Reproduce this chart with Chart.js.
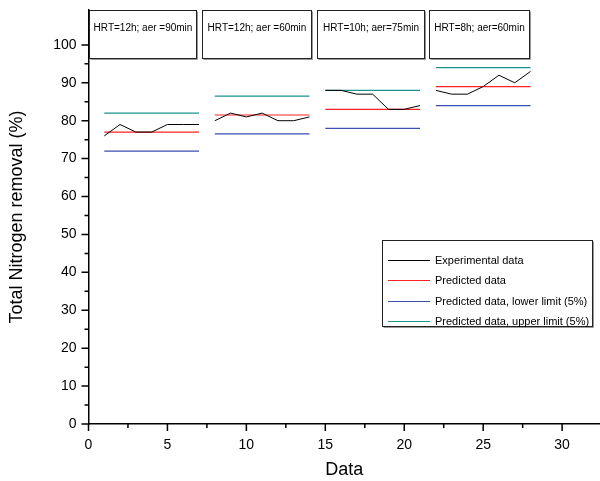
<!DOCTYPE html>
<html>
<head>
<meta charset="utf-8">
<script src="https://cdn.jsdelivr.net/npm/chart.js@4/dist/chart.umd.min.js"></script>
<style>
  html, body { margin: 0; padding: 0; background: #fff; }
  #wrap { width: 600px; height: 481px; }
</style>
</head>
<body>
<div id="wrap"><canvas id="tn-chart"></canvas></div>
<script>
// data
const sampleNo = [1,2,3,4,5,6,7, 8,9,10,11,12,13,14, 15,16,17,18,19,20,21, 22,23,24,25,26,27,28];
const experimental = [76,79,77,77,79,79,79, 80,82,81,82,80,80,81, 88,88,87,87,83,83,84, 88,87,87,89,92,90,93];
const groupStart = [1, 8, 15, 22];
const groupEnd = [7, 14, 21, 28];
const predicted = [77, 81.5, 83, 89];
const predictedLow = [72, 76.5, 78, 84];
const predictedHigh = [82, 86.5, 88, 94];
const conditionLabels = ['HRT=12h; aer =90min', 'HRT=12h; aer =60min', 'HRT=10h; aer=75min', 'HRT=8h; aer=60min'];
const seriesLabels = ['Experimental data', 'Predicted data', 'Predicted data, lower limit (5%)', 'Predicted data, upper limit (5%)'];
const xTicks = [0, 2.5, 5, 7.5, 10, 12.5, 15, 17.5, 20, 22.5, 25, 27.5, 30];
const yTicks = [0, 5, 10, 15, 20, 25, 30, 35, 40, 45, 50, 55, 60, 65, 70, 75, 80, 85, 90, 95, 100];

const FONT = "'Liberation Sans', Arial, sans-serif";

// horizontal segments per operating condition, broken with nulls
function levelSegments(levels) {
    const pts = [];
    levels.forEach((v, i) => {
        pts.push({ x: groupStart[i], y: v });
        pts.push({ x: groupEnd[i], y: v });
        pts.push({ x: groupEnd[i] + 0.5, y: null });
    });
    return pts;
}

// experimental series, one broken line per condition
const expPoints = [];
sampleNo.forEach((x, i) => {
    expPoints.push({ x: x, y: experimental[i] });
    if (groupEnd.includes(x)) expPoints.push({ x: x + 0.5, y: null });
});

// tick marks (major + minor) drawn by hand
const tickMarks = {
    id: 'tickMarks',
    afterDraw(chart) {
        const ctx = chart.ctx;
        const xs = chart.scales.x, ys = chart.scales.y;
        const area = chart.chartArea;
        ctx.save();
        ctx.strokeStyle = '#000';
        ctx.lineWidth = 1.5;
        ctx.beginPath();
        xs.ticks.forEach(t => {
            const px = xs.getPixelForValue(t.value);
            const len = t.value % 5 === 0 ? 7 : 4;
            ctx.moveTo(px, area.bottom);
            ctx.lineTo(px, area.bottom + len);
        });
        ys.ticks.forEach(t => {
            const py = ys.getPixelForValue(t.value);
            const len = t.value % 10 === 0 ? 7 : 4;
            ctx.moveTo(area.left, py);
            ctx.lineTo(area.left - len, py);
        });
        ctx.stroke();
        ctx.restore();
    }
};

// condition boxes on top of the plot
const conditionBoxes = {
    id: 'conditionBoxes',
    afterDraw(chart, args, opts) {
        const ctx = chart.ctx;
        const xs = chart.scales.x, ys = chart.scales.y;
        ctx.save();
        opts.spans.forEach((s, i) => {
            const x0 = Math.round(xs.getPixelForValue(s[0])) + 0.5;
            const x1 = Math.round(xs.getPixelForValue(s[1])) + 0.5;
            const y0 = Math.round(ys.getPixelForValue(opts.top)) + 0.5;
            const y1 = Math.round(ys.getPixelForValue(opts.bottom)) + 0.5;
            ctx.fillStyle = '#fff';
            ctx.fillRect(x0, y0, x1 - x0, y1 - y0);
            ctx.strokeStyle = '#999';
            ctx.lineWidth = 1;
            ctx.beginPath();
            ctx.moveTo(x1 + 1, y0 + 1);
            ctx.lineTo(x1 + 1, y1 + 1);
            ctx.lineTo(x0 + 1, y1 + 1);
            ctx.stroke();
            ctx.strokeStyle = '#222';
            ctx.strokeRect(x0, y0, x1 - x0, y1 - y0);
            ctx.fillStyle = '#000';
            ctx.font = '10px ' + FONT;
            ctx.textAlign = 'center';
            ctx.textBaseline = 'middle';
            ctx.fillText(conditionLabels[i], (x0 + x1) / 2, y0 + 18);
        });
        ctx.restore();
    }
};

// legend box inside the plot
const boxLegend = {
    id: 'boxLegend',
    afterDraw(chart) {
        const ctx = chart.ctx;
        const bx = 382.5, by = 240.5, bw = 210, bh = 86;
        ctx.save();
        ctx.fillStyle = '#fff';
        ctx.fillRect(bx, by, bw, bh);
        ctx.strokeStyle = '#999';
        ctx.lineWidth = 1;
        ctx.beginPath();
        ctx.moveTo(bx + bw + 1, by + 1);
        ctx.lineTo(bx + bw + 1, by + bh + 1);
        ctx.lineTo(bx + 1, by + bh + 1);
        ctx.stroke();
        ctx.strokeStyle = '#222';
        ctx.strokeRect(bx, by, bw, bh);
        ctx.font = '11px ' + FONT;
        ctx.textAlign = 'left';
        ctx.textBaseline = 'middle';
        chart.data.datasets.forEach((ds, i) => {
            const y = Math.round(by + 19 + i * 20.5) + 0.5;
            ctx.strokeStyle = ds.borderColor;
            ctx.lineWidth = 1.2;
            ctx.beginPath();
            ctx.moveTo(388, y);
            ctx.lineTo(430, y);
            ctx.stroke();
            ctx.fillStyle = '#000';
            ctx.fillText(ds.label, 435, y);
        });
        ctx.restore();
    }
};

new Chart(document.getElementById('tn-chart'), {
    type: 'line',
    data: {
        datasets: [
            { label: seriesLabels[0], data: expPoints, borderColor: '#000', borderWidth: 1, pointRadius: 0, tension: 0, spanGaps: false },
            { label: seriesLabels[1], data: levelSegments(predicted), borderColor: '#f22', borderWidth: 1.2, pointRadius: 0, spanGaps: false },
            { label: seriesLabels[2], data: levelSegments(predictedLow), borderColor: '#3d4fb0', borderWidth: 1.2, pointRadius: 0, spanGaps: false },
            { label: seriesLabels[3], data: levelSegments(predictedHigh), borderColor: '#1b9490', borderWidth: 1.2, pointRadius: 0, spanGaps: false }
        ]
    },
    options: {
        responsive: true,
        maintainAspectRatio: false,
        animation: false,
        layout: { padding: { top: 10, right: 0, left: 0, bottom: 0 } },
        plugins: {
            legend: { display: false },
            tooltip: { enabled: false },
            conditionBoxes: {
                spans: [[0, 6.84], [7.22, 14.1], [14.5, 21.27], [21.58, 27.9]],
                top: 109.2, bottom: 96.6
            }
        },
        scales: {
            x: {
                type: 'linear',
                min: 0, max: 32.4,
                afterBuildTicks: s => { s.ticks = xTicks.map(v => ({ value: v })); },
                afterFit: s => { s.height = 57; s.paddingRight = 0; },
                ticks: {
                    padding: 13,
                    color: '#000',
                    font: { family: FONT, size: 14 },
                    maxRotation: 0,
                    autoSkip: false,
                    callback: v => (v % 5 === 0 ? v : '')
                },
                grid: { display: false, drawTicks: false },
                border: { display: true, color: '#000', width: 1.5 },
                title: { display: true, text: 'Data', color: '#000', font: { family: FONT, size: 18 }, padding: { top: 2, bottom: 0 } }
            },
            y: {
                min: 0, max: 109.2,
                afterBuildTicks: s => { s.ticks = yTicks.map(v => ({ value: v })); },
                afterFit: s => { s.width = 88.5; s.paddingTop = 0; s.paddingBottom = 0; },
                ticks: {
                    padding: 12,
                    color: '#000',
                    font: { family: FONT, size: 14 },
                    autoSkip: false,
                    callback: v => (v % 10 === 0 ? v : '')
                },
                grid: { display: false, drawTicks: false },
                border: { display: true, color: '#000', width: 1.5 },
                title: { display: true, text: 'Total Nitrogen removal (%)', color: '#000', font: { family: FONT, size: 18 }, padding: { top: 6, bottom: 0 } }
            }
        }
    },
    plugins: [tickMarks, conditionBoxes, boxLegend]
});
</script>
</body>
</html>
